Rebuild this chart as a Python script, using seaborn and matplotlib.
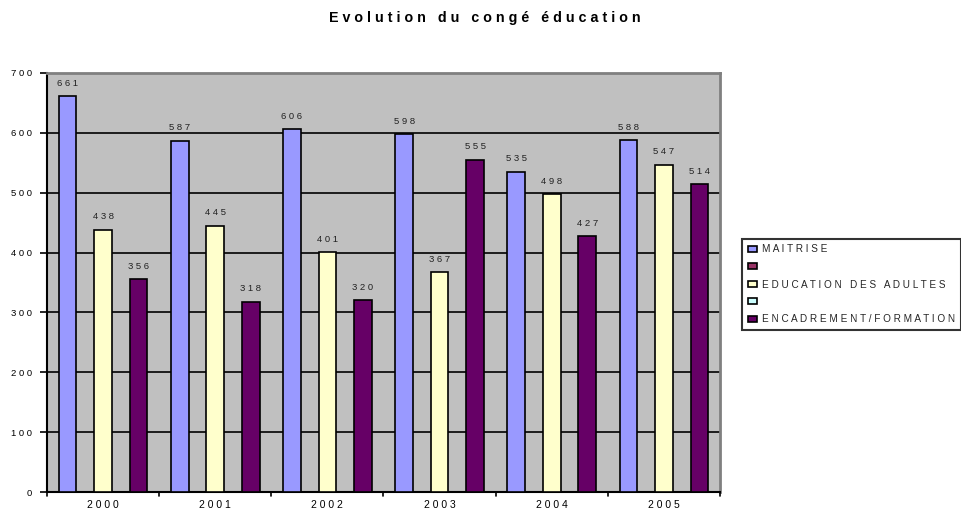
import matplotlib
matplotlib.use("Agg")
import matplotlib.pyplot as plt
import seaborn as sns
import pandas as pd
from matplotlib.patches import Patch

# Data
years = ["2000", "2001", "2002", "2003", "2004", "2005"]
maitrise = [661, 587, 606, 598, 535, 588]
education_adultes = [438, 445, 401, 367, 498, 547]
encadrement = [356, 318, 320, 555, 427, 514]
empty_a = [0, 0, 0, 0, 0, 0]
empty_b = [0, 0, 0, 0, 0, 0]

series_names = ["MAITRISE", " ", "EDUCATION DES ADULTES", "  ", "ENCADREMENT/FORMATION"]
series_values = [maitrise, empty_a, education_adultes, empty_b, encadrement]
series_colors = ["#9999FF", "#993366", "#FFFFCC", "#CCFFFF", "#660066"]
y_ticks = [0, 100, 200, 300, 400, 500, 600, 700]
title = "Evolution du congé éducation"


def spaced(s):
    return " ".join(s)


rows = []
for name, vals in zip(series_names, series_values):
    for yr, v in zip(years, vals):
        rows.append({"year": yr, "serie": name, "value": v})
df = pd.DataFrame(rows)

sns.set_theme(style="white")
plt.rcParams["font.family"] = ["Liberation Sans", "DejaVu Sans"]

fig = plt.figure(figsize=(9.61, 5.09), dpi=100)
ax = fig.add_axes([47 / 961, 17 / 509, (720 - 47) / 961, (492 - 73) / 509])
ax.set_facecolor("#C0C0C0")

sns.barplot(data=df, x="year", y="value", hue="serie", hue_order=series_names,
            palette=series_colors, width=0.79, edgecolor="black", linewidth=1.2,
            saturation=1, legend=False, ax=ax, zorder=3)

ax.set_ylim(0, 700)
ax.set_xlim(-0.5, len(years) - 0.5)
ax.set_yticks(y_ticks)
ax.set_yticklabels([spaced(str(t)) for t in y_ticks], fontsize=6.8, color="black")
ax.set_xticks(range(len(years)))
ax.set_xticklabels([spaced(y) for y in years], fontsize=7.5, color="black")
ax.tick_params(axis="x", length=0, pad=6)
ax.tick_params(axis="y", length=5, width=1.2, color="black", direction="out", pad=6, left=True)

# Category boundary ticks on the x axis
for b in [i + 0.5 for i in range(-1, len(years))]:
    ax.plot([b, b], [0, -6], color="black", lw=1.2, clip_on=False, zorder=5)
ax.set_ylim(0, 700)

# Horizontal grid
for t in y_ticks[1:-1]:
    ax.axhline(t, color="black", lw=1.2, zorder=2)

ax.set_xlabel("")
ax.set_ylabel("")
for side in ["left", "bottom"]:
    ax.spines[side].set_color("black")
    ax.spines[side].set_linewidth(1.5)
for side in ["top", "right"]:
    ax.spines[side].set_color("#808080")
    ax.spines[side].set_linewidth(2)
    ax.spines[side].set_visible(True)

# Value labels on the non-empty series
for cont, vals, name in zip(ax.containers, series_values, series_names):
    if name.strip():
        ax.bar_label(cont, labels=[spaced(str(v)) for v in vals], padding=6,
                     fontsize=6.8, color="#222222")

fig.text(0.505, 1 - 18 / 509, spaced(title), ha="center", va="center",
         fontsize=10.3, fontweight="bold", color="black")

handles = [Patch(facecolor=c, edgecolor="black", linewidth=1.2) for c in series_colors]
leg = fig.legend(handles, [spaced(n) if n.strip() else "" for n in series_names],
                 loc="upper left", bbox_to_anchor=(742 / 961, 1 - 239 / 509),
                 fontsize=7.2, frameon=True, fancybox=False, edgecolor="black",
                 handlelength=0.9, handleheight=0.55, handletextpad=0.6,
                 labelspacing=0.75, borderpad=0.55, borderaxespad=0)
leg.get_frame().set_linewidth(1.5)

fig.savefig("out.png", dpi=100, facecolor="white")
